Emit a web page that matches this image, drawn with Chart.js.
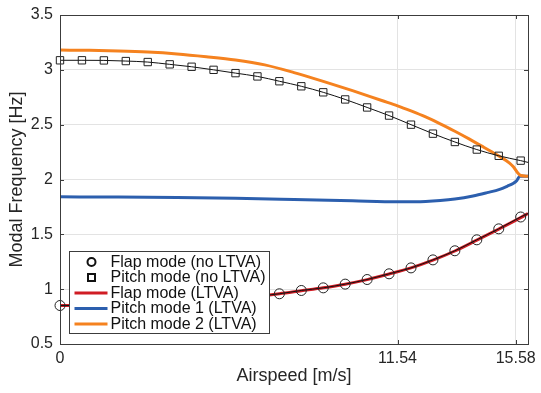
<!DOCTYPE html>
<html>
<head>
<meta charset="utf-8">
<script src="https://cdn.jsdelivr.net/npm/chart.js@4.4.1/dist/chart.umd.min.js"></script>
<style>
  html, body { margin: 0; padding: 0; background: #fff; }
  #wrap { width: 541px; height: 393px; position: relative; }
</style>
</head>
<body>
<div id="wrap"><canvas id="modes"></canvas></div>
<script>
// ---------- data ----------
// airspeed samples of the "no LTVA" markers [m/s]
const SPEED_MARKERS = [0, 0.75, 1.5, 2.25, 3, 3.75, 4.5, 5.25, 6, 6.75, 7.5, 8.25,
                       9, 9.75, 10.5, 11.25, 12, 12.75, 13.5, 14.25, 15, 15.75];
const FLAP_NO_LTVA  = [0.851, 0.851, 0.853, 0.857, 0.863, 0.872, 0.884, 0.898, 0.915, 0.935, 0.958, 0.988,
                       1.012, 1.046, 1.088, 1.140, 1.194, 1.267, 1.350, 1.450, 1.550, 1.658];
const PITCH_NO_LTVA = [3.087, 3.087, 3.086, 3.080, 3.071, 3.050, 3.028, 3.000, 2.970, 2.940, 2.896, 2.850,
                       2.795, 2.730, 2.657, 2.583, 2.500, 2.418, 2.342, 2.273, 2.216, 2.172];
// thin black curves run past the last marker up to the axis edge
const NO_LTVA_END_SPEED = 16;
const FLAP_NO_LTVA_END  = 1.69;
const PITCH_NO_LTVA_END = 2.156;

// LTVA curves
const FLAP_LTVA_SPEED = [0, 0.75, 1.5, 2.25, 3, 3.75, 4.5, 5.25, 6, 6.75, 7.5, 8.25,
                         9, 9.75, 10.5, 11.25, 12, 12.75, 13.5, 14.25, 15, 15.75, 16];
const FLAP_LTVA       = [0.850, 0.851, 0.853, 0.857, 0.863, 0.872, 0.884, 0.898, 0.915, 0.935, 0.958, 0.985,
                         1.012, 1.045, 1.087, 1.138, 1.194, 1.265, 1.348, 1.447, 1.548, 1.652, 1.69];

const PITCH1_SPEED = [0, 2, 4, 6, 8, 10, 11.54, 12.5, 13, 13.5, 14.12, 14.6, 15.03, 15.3, 15.49, 15.62, 15.72, 16];
const PITCH1_LTVA  = [1.842, 1.840, 1.836, 1.829, 1.818, 1.806, 1.797, 1.800, 1.808, 1.822, 1.850, 1.880,
                      1.910, 1.940, 1.964, 1.992, 2.030, 2.030];

const PITCH2_SPEED = [0, 1, 2, 3, 4, 5, 6, 7, 8, 9, 10, 11, 11.54, 12, 12.5, 13, 13.5, 14, 14.5, 15,
                      15.37, 15.5, 15.66, 15.75, 16];
const PITCH2_LTVA  = [3.180, 3.178, 3.172, 3.162, 3.145, 3.120, 3.090, 3.045, 2.975, 2.895, 2.810, 2.720,
                      2.672, 2.625, 2.570, 2.508, 2.440, 2.368, 2.292, 2.215, 2.150, 2.116, 2.056, 2.036, 2.030];

const X_TICKS = [0, 11.54, 15.58];
const Y_TICKS = [0.5, 1, 1.5, 2, 2.5, 3, 3.5];

const LEGEND_LABELS = ["Flap mode (no LTVA)", "Pitch mode (no LTVA)", "Flap mode (LTVA)",
                       "Pitch mode 1 (LTVA)", "Pitch mode 2 (LTVA)"];

// ---------- styling ----------
const FONT = "'Liberation Sans', Arial, Helvetica, sans-serif";
const TXT = "#262626";
const C_RED = "#d01c24", C_BLUE = "#2c5fae", C_ORANGE = "#f5821f";

const pts = (xs, ys) => ys.map((y, i) => ({ x: xs[i], y }));

// box round the plot plus MATLAB-ish inward ticks
const boxPlugin = {
  id: "box",
  afterDatasetsDraw(chart) {
    const { ctx, chartArea: a, scales } = chart;
    ctx.save();
    ctx.strokeStyle = "#3c3c3c";
    ctx.lineWidth = 1;
    ctx.strokeRect(Math.round(a.left) + 0.5, Math.round(a.top) + 0.5,
                   Math.round(a.right - a.left), Math.round(a.bottom - a.top));
    ctx.beginPath();
    Y_TICKS.forEach(v => {
      const y = Math.round(scales.y.getPixelForValue(v)) + 0.5;
      ctx.moveTo(a.left, y); ctx.lineTo(a.left + 4, y);
      ctx.moveTo(a.right, y); ctx.lineTo(a.right - 4, y);
    });
    X_TICKS.forEach(v => {
      const x = Math.round(scales.x.getPixelForValue(v)) + 0.5;
      ctx.moveTo(x, a.bottom); ctx.lineTo(x, a.bottom - 4);
      ctx.moveTo(x, a.top); ctx.lineTo(x, a.top + 4);
    });
    ctx.stroke();
    ctx.restore();
  }
};

// legend sits inside the axes on top of the data, like the MATLAB one
const legendPlugin = {
  id: "insideLegend",
  afterDraw(chart) {
    const { ctx, chartArea: a } = chart;
    const x0 = Math.round(a.left) + 9.5, y0 = Math.round(a.bottom) - 92.5;
    const w = 200, h = 82, row = 15.5;
    ctx.save();
    ctx.fillStyle = "#fff";
    ctx.fillRect(x0, y0, w, h);
    ctx.strokeStyle = "#3c3c3c";
    ctx.lineWidth = 1;
    ctx.strokeRect(x0, y0, w, h);
    ctx.font = "16px " + FONT;
    ctx.textBaseline = "middle";
    ctx.textAlign = "left";
    LEGEND_LABELS.forEach((lab, i) => {
      const cy = y0 + 10.5 + i * row;
      const mx = x0 + 22;
      ctx.strokeStyle = "#111";
      ctx.lineWidth = 2;
      if (i === 0) {
        ctx.beginPath(); ctx.arc(mx, cy, 4, 0, Math.PI * 2); ctx.stroke();
      } else if (i === 1) {
        ctx.strokeRect(mx - 3.5, cy - 3.5, 7, 7);
      } else {
        ctx.strokeStyle = [C_RED, C_BLUE, C_ORANGE][i - 2];
        ctx.lineWidth = 3;
        ctx.beginPath(); ctx.moveTo(x0 + 5, cy); ctx.lineTo(x0 + 38, cy); ctx.stroke();
      }
      ctx.fillStyle = "#111";
      ctx.fillText(lab, x0 + 41, cy + 0.5);
    });
    ctx.restore();
  }
};

new Chart(document.getElementById("modes").getContext("2d"), {
  type: "line",
  data: {
    datasets: [
      { label: LEGEND_LABELS[0], data: pts(SPEED_MARKERS, FLAP_NO_LTVA), showLine: false,
        pointStyle: "circle", pointRadius: 5, pointBorderWidth: 1, pointBorderColor: "#222",
        pointBackgroundColor: "rgba(0,0,0,0)" },
      { label: LEGEND_LABELS[1], data: pts(SPEED_MARKERS, PITCH_NO_LTVA), showLine: false,
        pointStyle: "rect", pointRadius: 5.2, pointBorderWidth: 1, pointBorderColor: "#222",
        pointBackgroundColor: "rgba(0,0,0,0)" },
      { label: "flap line", data: [...pts(SPEED_MARKERS, FLAP_NO_LTVA), { x: NO_LTVA_END_SPEED, y: FLAP_NO_LTVA_END }],
        borderColor: "#111", borderWidth: 1, pointRadius: 0, cubicInterpolationMode: "monotone" },
      { label: "pitch line", data: [...pts(SPEED_MARKERS, PITCH_NO_LTVA), { x: NO_LTVA_END_SPEED, y: PITCH_NO_LTVA_END }],
        borderColor: "#111", borderWidth: 1, pointRadius: 0, cubicInterpolationMode: "monotone" },
      { label: LEGEND_LABELS[4], data: pts(PITCH2_SPEED, PITCH2_LTVA), borderColor: C_ORANGE,
        borderWidth: 3, pointRadius: 0, cubicInterpolationMode: "monotone" },
      { label: LEGEND_LABELS[2], data: pts(FLAP_LTVA_SPEED, FLAP_LTVA), borderColor: C_RED,
        borderWidth: 3, pointRadius: 0, cubicInterpolationMode: "monotone" },
      { label: LEGEND_LABELS[3], data: pts(PITCH1_SPEED, PITCH1_LTVA), borderColor: C_BLUE,
        borderWidth: 3, pointRadius: 0, cubicInterpolationMode: "monotone" },
    ]
  },
  options: {
    responsive: true,
    maintainAspectRatio: false,
    animation: false,
    clip: false,
    layout: { padding: { left: 0, right: 13, top: 15, bottom: 0 } },
    plugins: { legend: { display: false }, tooltip: { enabled: false } },
    scales: {
      x: {
        type: "linear", min: 0, max: 16,
        afterBuildTicks: (s) => { s.ticks = X_TICKS.map(v => ({ value: v })); },
        afterFit: (s) => { s.height = 49; s.paddingLeft = 0; s.paddingRight = 0; },
        grid: { color: "#e3e3e3", drawTicks: false },
        border: { display: false },
        ticks: { color: TXT, padding: 5, font: { family: FONT, size: 16 },
                 callback: (v) => String(v), maxRotation: 0, autoSkip: false },
        title: { display: true, text: "Airspeed [m/s]", color: TXT,
                 font: { family: FONT, size: 18 }, padding: { top: 0, bottom: 6 } }
      },
      y: {
        type: "linear", min: 0.5, max: 3.5,
        afterBuildTicks: (s) => { s.ticks = Y_TICKS.map(v => ({ value: v })); },
        afterFit: (s) => { s.width = 60; s.paddingTop = 0; s.paddingBottom = 0; },
        grid: { color: "#e3e3e3", drawTicks: false },
        border: { display: false },
        ticks: { color: TXT, padding: 7, font: { family: FONT, size: 16 },
                 callback: (v) => String(v) },
        title: { display: true, text: "Modal Frequency [Hz]", color: TXT,
                 font: { family: FONT, size: 18 }, padding: { top: 6, bottom: 0 } }
      }
    }
  },
  plugins: [boxPlugin, legendPlugin]
});
</script>
</body>
</html>
